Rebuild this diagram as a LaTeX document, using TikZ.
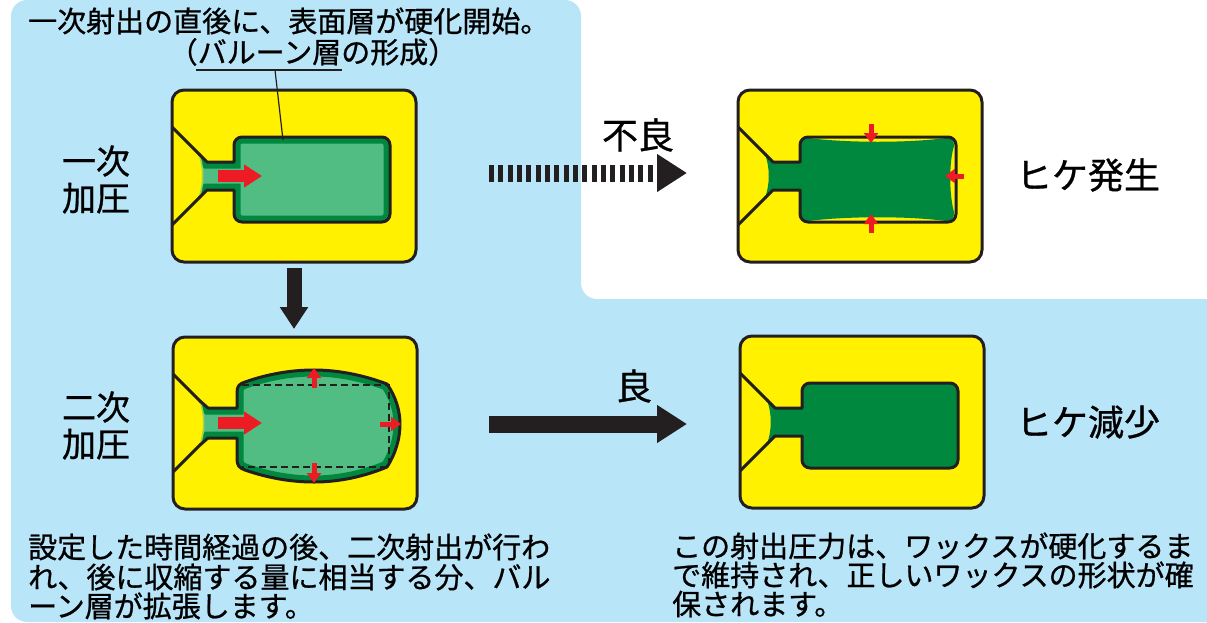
\documentclass[tikz,border=0pt]{standalone}
\usepackage{fontspec}
\newfontfamily\jpfont[FakeBold=0.8]{Noto Sans CJK JP}
\usetikzlibrary{arrows.meta}

\definecolor{bgblue}{RGB}{185,229,249}
\definecolor{moldyellow}{RGB}{255,241,0}
\definecolor{waxdark}{RGB}{0,137,62}
\definecolor{waxlight}{RGB}{82,189,131}
\definecolor{pushred}{RGB}{237,28,36}
\definecolor{ink}{RGB}{35,31,32}

% cavity walls, from the funnel throat round to the funnel throat
\newcommand{\boxwalls}{(27,64) -- (35,72) -- (62,72) [rounded corners=8] -- (62,47) -- (218,47) -- (218,132) -- (62,132) [sharp corners] -- (62,100) -- (35,100) -- (27,108)}
\newcommand{\bulgewalls}{(27,64) -- (35,71) -- (64,71) -- (64,56) .. controls (64,49) and (66,47) .. (72,45) .. controls (95,37) and (118,33) .. (141,33) .. controls (165,33) and (190,38) .. (214,47) .. controls (223,60) and (227,74) .. (227,87) .. controls (227,101) and (223,116) .. (214,130) .. controls (190,140) and (165,145) .. (141,145) .. controls (118,145) and (95,141) .. (72,133) .. controls (66,131) and (64,128) .. (64,122) -- (64,101) -- (35,101) -- (27,108)}
\newcommand{\sinkwax}{(27,64) -- (35,72) -- (62,72) -- (62,55) .. controls (62,49) and (64,48) .. (70,48) .. controls (110,53) and (170,53) .. (208,48) .. controls (214,48) and (216,50) .. (216,56) .. controls (211,72) and (211,104) .. (216,122) .. controls (216,129) and (214,131) .. (208,131) .. controls (170,126) and (110,126) .. (70,131) .. controls (64,131) and (62,129) .. (62,124) -- (62,100) -- (35,100) -- (27,108)}
\newcommand{\meniscus}{.. controls (32,94) and (32,78) .. (27,64) -- cycle}

\newcommand{\drawframe}{\draw[moldframe] (0,0) rectangle (244,172);}
\newcommand{\drawfunnel}{\draw[wall] (0,37) -- (27.5,64.5) (27.5,107.5) -- (0,135);}

\begin{document}
\begin{tikzpicture}[x=1pt, y=-1pt,
    moldframe/.style={fill=moldyellow, draw=ink, line width=3pt, rounded corners=12pt},
    wall/.style={draw=ink, line width=3pt, line join=round},
    push/.style={draw=pushred, line width=12pt, -{Triangle[length=18pt,width=22pt]}},
    nudge/.style={draw=pushred, line width=5pt, -{Triangle[length=10pt,width=14pt]}},
    bigarrow/.style={draw=ink, line width=17pt, -{Triangle[length=30pt,width=36pt]}},
    jptext/.style={font=\jpfont\fontsize{29pt}{30pt}\selectfont, inner sep=0pt},
    jpbig/.style={font=\jpfont\fontsize{36pt}{38pt}\selectfont, inner sep=0pt},
    jpstage/.style={font=\jpfont\fontsize{34pt}{37pt}\selectfont, inner sep=0pt, align=center}]
    \useasboundingbox (0,0) rectangle (1207,622);
    % background panels
    \fill[bgblue, rounded corners=16pt] (11,0) -- (581,0) -- (581,299) -- (1240,299) -- (1240,622) -- (11,622) -- cycle;

    % first pressing: balloon layer
    \begin{scope}[shift={(172,90)}]
        \drawframe
        \begin{scope}
            \clip \boxwalls \meniscus;
            \fill[waxlight] \boxwalls \meniscus;
            \draw[waxdark, line width=13pt] \boxwalls;
        \end{scope}
        \draw[moldyellow!45!waxlight, line width=1.5pt] (27,108) .. controls (32,94) and (32,78) .. (27,64);
        \drawfunnel
        \draw[wall] \boxwalls;
        \draw[push] (46,86) -- (90,86);
    \end{scope}

    % sink marks
    \begin{scope}[shift={(738,90)}]
        \drawframe
        \fill[waxdark] \sinkwax \meniscus;
        \drawfunnel
        \draw[wall] \boxwalls;
        \draw[nudge] (133,34) -- (133,53);
        \draw[nudge] (133,143) -- (133,124);
        \draw[nudge] (226,86) -- (207,86);
    \end{scope}

    % second pressing: balloon layer expands
    \begin{scope}[shift={(173,337)}]
        \drawframe
        \begin{scope}
            \clip \bulgewalls \meniscus;
            \fill[waxlight] \bulgewalls \meniscus;
            \draw[waxdark, line width=13pt] \bulgewalls;
        \end{scope}
        \draw[moldyellow!45!waxlight, line width=1.5pt] (27,108) .. controls (32,94) and (32,78) .. (27,64);
        \draw[ink, line width=2pt, dash pattern=on 7pt off 4pt] (69,48) -- (216,48) -- (216,130) -- (69,130);
        \drawfunnel
        \draw[wall] \bulgewalls;
        \draw[push] (45,86) -- (89,86);
        \draw[nudge] (141,51) -- (141,31);
        \draw[nudge] (141,126) -- (141,146);
        \draw[nudge] (207,87) -- (228,87);
    \end{scope}

    % sink marks reduced
    \begin{scope}[shift={(740,336)}]
        \drawframe
        \fill[waxdark] \boxwalls \meniscus;
        \drawfunnel
        \draw[wall] \boxwalls;
    \end{scope}

    % arrows between the stages
    \coordinate (first end) at (294,268);
    \coordinate (second top) at (294,329);
    \coordinate (bad from) at (489,173);
    \coordinate (bad to) at (687,173);
    \coordinate (good from) at (489,424);
    \coordinate (good to) at (687,424);
    \draw[bigarrow, line width=15pt, -{Triangle[length=22pt,width=27pt]}] (first end) -- (second top);
    \draw[bigarrow, dash pattern=on 5pt off 4.33pt] (bad from) -- (bad to);
    \draw[bigarrow] (good from) -- (good to);

    % texts
    \node[jptext, anchor=base west] (lead) at (28,32) {一次射出の直後に、表面層が硬化開始。};
    \node[jptext, anchor=base] (balloon) at (313,63) {（バルーン層の形成）};
    \coordinate (ul west) at (196,70);
    \coordinate (ul east) at (342,70);
    \coordinate (ul tap) at (275,70);
    \coordinate (skin) at (283,140);
    \draw[ink, line width=2pt] (ul west) -- (ul east);
    \draw[ink, line width=1.2pt] (ul tap) -- (skin);

    \node[jpstage] (first) at (96,179.5) {一次\\加圧};
    \node[jpstage] (second) at (96,425.5) {二次\\加圧};
    \node[jpbig] (bad) at (638,135) {不良};
    \node[jpbig] (good) at (634,386) {良};
    \node[jpbig] (sink) at (1088,175) {ヒケ発生};
    \node[jpbig] (less) at (1088,422) {ヒケ減少};

    \node[jptext, anchor=base west] (left a) at (28,558) {設定した時間経過の後、二次射出が行わ};
    \node[jptext, anchor=base west] (left b) at (28,588) {れ、後に収縮する量に相当する分、バル};
    \node[jptext, anchor=base west] (left c) at (28,617) {ーン層が拡張します。};
    \node[jptext, anchor=base west] (right a) at (672,557) {この射出圧力は、ワックスが硬化するま};
    \node[jptext, anchor=base west] (right b) at (672,586) {で維持され、正しいワックスの形状が確};
    \node[jptext, anchor=base west] (right c) at (672,615) {保されます。};
\end{tikzpicture}
\end{document}
